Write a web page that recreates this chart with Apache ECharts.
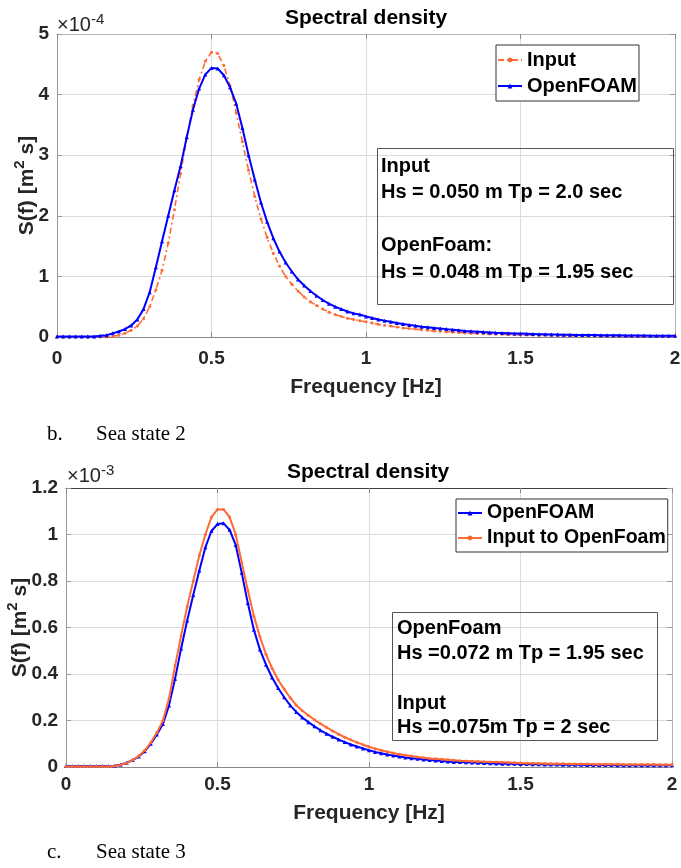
<!DOCTYPE html>
<html>
<head>
<meta charset="utf-8">
<script src="https://cdn.jsdelivr.net/npm/echarts@6/dist/echarts.min.js"></script>
<style>
html,body{margin:0;padding:0;background:#fff;}
#chart{width:681px;height:868px;}
</style>
</head>
<body>
<div id="chart"></div>
<script>
// Frequency sampling grid (Hz), 0 .. 2 step 0.02
const freq = Array.from({length: 101}, (_, i) => +(i * 0.02).toFixed(2));
const xTicks = [0, 0.5, 1, 1.5, 2];

// Chart b (Sea state 2), values in units of 1e-4 m^2 s
const input1 = [
 0.00,0.00,0.00,0.00,0.00,0.00,0.00,0.00,0.00,0.01,
 0.03,0.06,0.11,0.18,0.30,0.50,0.78,1.10,1.55,2.10,
 2.70,3.28,3.82,4.25,4.55,4.70,4.68,4.48,4.15,3.70,
 3.22,2.75,2.32,1.95,1.64,1.38,1.17,1.00,0.87,0.76,
 0.66,0.58,0.52,0.46,0.41,0.37,0.34,0.31,0.29,0.27,
 0.25,0.23,0.21,0.195,0.18,0.165,0.15,0.14,0.13,0.12,
 0.11,0.10,0.094,0.087,0.080,0.074,0.068,0.063,0.058,0.054,
 0.050,0.047,0.044,0.041,0.038,0.036,0.034,0.032,0.030,0.028,
 0.027,0.025,0.024,0.023,0.022,0.021,0.020,0.019,0.018,0.017,
 0.016,0.016,0.015,0.015,0.014,0.014,0.013,0.013,0.012,0.012,
 0.012
];
const ofoam1 = [
 0.01,0.01,0.01,0.01,0.01,0.01,0.01,0.02,0.03,0.06,
 0.09,0.13,0.19,0.29,0.46,0.74,1.15,1.58,2.00,2.42,
 2.82,3.30,3.75,4.10,4.33,4.44,4.43,4.32,4.12,3.85,
 3.45,3.00,2.60,2.22,1.90,1.63,1.41,1.23,1.08,0.95,
 0.85,0.76,0.68,0.61,0.55,0.50,0.46,0.42,0.39,0.37,
 0.34,0.315,0.29,0.27,0.25,0.23,0.215,0.20,0.185,0.17,
 0.16,0.15,0.14,0.13,0.12,0.11,0.10,0.093,0.087,0.081,
 0.076,0.071,0.067,0.063,0.059,0.056,0.053,0.050,0.047,0.045,
 0.043,0.041,0.039,0.037,0.035,0.034,0.032,0.031,0.030,0.029,
 0.028,0.027,0.026,0.025,0.024,0.023,0.022,0.022,0.021,0.020,
 0.020
];

// Chart c (Sea state 3), values in units of 1e-3 m^2 s
const ofoam2 = [
 0.004,0.004,0.004,0.004,0.004,0.004,0.004,0.004,0.005,0.010,
 0.018,0.030,0.045,0.068,0.100,0.140,0.185,0.265,0.380,0.510,
 0.630,0.740,0.845,0.945,1.015,1.045,1.048,1.020,0.955,0.835,
 0.705,0.590,0.505,0.440,0.385,0.340,0.300,0.265,0.237,0.213,
 0.193,0.175,0.158,0.143,0.130,0.118,0.107,0.097,0.088,0.080,
 0.072,0.065,0.059,0.054,0.049,0.045,0.041,0.038,0.035,0.032,
 0.030,0.028,0.026,0.024,0.022,0.021,0.020,0.019,0.018,0.017,
 0.016,0.015,0.0145,0.014,0.0135,0.013,0.0125,0.012,0.0115,0.011,
 0.0107,0.0104,0.0101,0.0098,0.0095,0.0092,0.0090,0.0088,0.0086,0.0084,
 0.0082,0.0080,0.0078,0.0077,0.0076,0.0075,0.0074,0.0073,0.0072,0.0071,
 0.0070
];
const input2 = [
 0.002,0.002,0.002,0.002,0.002,0.002,0.002,0.002,0.004,0.009,
 0.017,0.030,0.047,0.072,0.105,0.148,0.200,0.295,0.435,0.565,
 0.690,0.800,0.910,1.000,1.075,1.108,1.108,1.075,1.000,0.880,
 0.760,0.650,0.560,0.485,0.425,0.375,0.335,0.298,0.266,0.242,
 0.222,0.203,0.186,0.170,0.155,0.141,0.128,0.117,0.106,0.096,
 0.087,0.079,0.072,0.066,0.060,0.055,0.051,0.047,0.043,0.040,
 0.037,0.035,0.033,0.031,0.029,0.027,0.026,0.025,0.024,0.023,
 0.022,0.021,0.020,0.019,0.018,0.017,0.0165,0.016,0.0155,0.015,
 0.0145,0.014,0.0137,0.0134,0.0131,0.0128,0.0125,0.0122,0.0120,0.0118,
 0.0116,0.0114,0.0112,0.0110,0.0108,0.0106,0.0104,0.0103,0.0102,0.0101,
 0.0100
];
const yTicks1 = [0, 1, 2, 3, 4, 5];
const yTicks2 = [0, 0.2, 0.4, 0.6, 0.8, 1, 1.2];

const SANS = '"Liberation Sans", Arial, Helvetica, sans-serif';
const SERIF = '"Liberation Serif", "Times New Roman", serif';
const TXT = '#262626';
const ORANGE = '#FF6A35';
const BLUE = '#0000FF';

const pairs = vals => freq.map((f, i) => [f, vals[i]]);

function xAxes(gi, topColor) {
  return [{
    gridIndex: gi, type: 'value', position: 'bottom',
    min: xTicks[0], max: xTicks[xTicks.length - 1], interval: 0.5,
    name: 'Frequency [Hz]', nameLocation: 'middle', nameGap: gi === 0 ? 40 : 36,
    nameTextStyle: {fontFamily: SANS, fontWeight: 'bold', fontSize: 21, color: TXT},
    axisLine: {onZero: false, lineStyle: {color: '#8a8a8a', width: 1}},
    axisTick: {inside: true, length: 5, lineStyle: {color: '#8a8a8a'}},
    axisLabel: {fontFamily: SANS, fontWeight: 'bold', fontSize: 19, color: TXT, margin: gi === 0 ? 12 : 8},
    splitLine: {show: true, lineStyle: {color: '#dcdcdc', width: 1}}
  }, {
    gridIndex: gi, type: 'value', position: 'top',
    min: xTicks[0], max: xTicks[xTicks.length - 1], interval: 0.5,
    axisLine: {onZero: false, lineStyle: {color: topColor, width: 1}},
    axisTick: {inside: true, length: 5, lineStyle: {color: '#8a8a8a'}},
    axisLabel: {show: false}, splitLine: {show: false}
  }];
}
function yAxes(gi, ticks, interval, gap) {
  return [{
    gridIndex: gi, type: 'value', position: 'left',
    min: ticks[0], max: ticks[ticks.length - 1], interval: interval,
    name: '{n|S(f) [m}{s|2}{n| s]}', nameLocation: 'middle', nameGap: gap,
    nameMoveOverlap: false,
    nameTextStyle: {fontFamily: SANS, fontWeight: 'bold', fontSize: 21, color: TXT,
      rich: {
        n: {fontFamily: SANS, fontWeight: 'bold', fontSize: 21, color: TXT, verticalAlign: 'bottom', lineHeight: 26},
        s: {fontFamily: SANS, fontWeight: 'bold', fontSize: 15, color: TXT, verticalAlign: 'top', lineHeight: 15}
      }},
    axisLine: {onZero: false, lineStyle: {color: '#9a9a9a', width: 1}},
    axisTick: {inside: true, length: 5, lineStyle: {color: '#9a9a9a'}},
    axisLabel: {fontFamily: SANS, fontWeight: 'bold', fontSize: 19, color: TXT, margin: 8},
    splitLine: {show: true, lineStyle: {color: '#dcdcdc', width: 1}}
  }, {
    gridIndex: gi, type: 'value', position: 'right',
    min: ticks[0], max: ticks[ticks.length - 1], interval: interval,
    axisLine: {onZero: false, lineStyle: {color: '#b4b4b4', width: 1}},
    axisTick: {inside: true, length: 5, lineStyle: {color: '#9a9a9a'}},
    axisLabel: {show: false}, splitLine: {show: false}
  }];
}

const chart = echarts.init(document.getElementById('chart'), null, {renderer: 'canvas'});

const option = {
  animation: false,
  backgroundColor: '#fff',
  grid: [
    {left: 57, top: 34, width: 618, height: 303, containLabel: false, outerBoundsMode: 'none'},
    {left: 66, top: 488, width: 606, height: 279, containLabel: false, outerBoundsMode: 'none'}
  ],
  xAxis: [...xAxes(0, '#b4b4b4'), ...xAxes(1, '#404040')],
  yAxis: [...yAxes(0, yTicks1, 1, 19), ...yAxes(1, yTicks2, 0.2, 35)],
  legend: [{
    data: ['Input', 'OpenFOAM'], orient: 'vertical', left: 496, top: 45,
    itemWidth: 24, itemHeight: 6, itemGap: 6, padding: [5, 2, 5, 1],
    backgroundColor: '#fff', borderColor: '#333', borderWidth: 1, borderRadius: 0,
    textStyle: {fontFamily: SANS, fontWeight: 'bold', fontSize: 20, color: '#000'}, selectedMode: false
  }, {
    data: ['OpenFOAM', 'Input to OpenFoam'], orient: 'vertical', left: 456, top: 499,
    itemWidth: 24, itemHeight: 6, itemGap: 5, padding: [4, 2, 4, 1],
    backgroundColor: '#fff', borderColor: '#333', borderWidth: 1, borderRadius: 0,
    textStyle: {fontFamily: SANS, fontWeight: 'bold', fontSize: 19.5, color: '#000'}, selectedMode: false
  }],
  series: [
    {name: 'Input', type: 'line', xAxisIndex: 0, yAxisIndex: 0, data: pairs(input1),
     symbol: 'circle', symbolSize: 3, showSymbol: true,
     lineStyle: {color: ORANGE, width: 1.6, type: [6, 3, 2, 3]}, itemStyle: {color: ORANGE}, z: 2},
    {name: 'OpenFOAM', type: 'line', xAxisIndex: 0, yAxisIndex: 0, data: pairs(ofoam1),
     symbol: 'triangle', symbolSize: 4, showSymbol: true,
     lineStyle: {color: BLUE, width: 2}, itemStyle: {color: BLUE}, z: 3},
    {name: 'OpenFOAM', type: 'line', xAxisIndex: 2, yAxisIndex: 2, data: pairs(ofoam2),
     symbol: 'triangle', symbolSize: 4, showSymbol: true,
     lineStyle: {color: BLUE, width: 2}, itemStyle: {color: BLUE}, z: 2},
    {name: 'Input to OpenFoam', type: 'line', xAxisIndex: 2, yAxisIndex: 2, data: pairs(input2),
     symbol: 'circle', symbolSize: 3, showSymbol: true,
     lineStyle: {color: ORANGE, width: 2}, itemStyle: {color: ORANGE}, z: 3}
  ],
  graphic: [
    // titles
    {type: 'text', x: 366, y: 18, style: {text: 'Spectral density', font: 'bold 21px ' + SANS, fill: '#000', textAlign: 'center', textVerticalAlign: 'middle'}},
    {type: 'text', x: 368, y: 472, style: {text: 'Spectral density', font: 'bold 21px ' + SANS, fill: '#000', textAlign: 'center', textVerticalAlign: 'middle'}},
    // exponent labels
    {type: 'text', x: 57, y: 12, style: {text: '{a|×10}{b|-4}', rich: {a: {fontFamily: SANS, fontSize: 20, fill: TXT, verticalAlign: 'bottom', lineHeight: 23}, b: {fontFamily: SANS, fontSize: 15, fill: TXT, verticalAlign: 'top', lineHeight: 15}}}},
    {type: 'text', x: 67, y: 463, style: {text: '{a|×10}{b|-3}', rich: {a: {fontFamily: SANS, fontSize: 20, fill: TXT, verticalAlign: 'bottom', lineHeight: 23}, b: {fontFamily: SANS, fontSize: 15, fill: TXT, verticalAlign: 'top', lineHeight: 15}}}},
    // annotation box, chart b
    {type: 'rect', shape: {x: 377.5, y: 148.5, width: 296, height: 156}, style: {fill: 'none', stroke: '#555', lineWidth: 1}, z: 10},
    {type: 'text', x: 381, y: 166, z: 11, style: {text: 'Input', font: 'bold 20px ' + SANS, fill: '#000', textVerticalAlign: 'middle'}},
    {type: 'text', x: 381, y: 192.5, z: 11, style: {text: 'Hs = 0.050 m Tp = 2.0 sec', font: 'bold 20px ' + SANS, fill: '#000', textVerticalAlign: 'middle'}},
    {type: 'text', x: 381, y: 245.5, z: 11, style: {text: 'OpenFoam:', font: 'bold 20px ' + SANS, fill: '#000', textVerticalAlign: 'middle'}},
    {type: 'text', x: 381, y: 272, z: 11, style: {text: 'Hs = 0.048 m Tp = 1.95 sec', font: 'bold 20px ' + SANS, fill: '#000', textVerticalAlign: 'middle'}},
    // annotation box, chart c
    {type: 'rect', shape: {x: 392.5, y: 612.5, width: 265, height: 128}, style: {fill: 'none', stroke: '#555', lineWidth: 1}, z: 10},
    {type: 'text', x: 397, y: 628, z: 11, style: {text: 'OpenFoam', font: 'bold 20px ' + SANS, fill: '#000', textVerticalAlign: 'middle'}},
    {type: 'text', x: 397, y: 653, z: 11, style: {text: 'Hs =0.072 m Tp = 1.95 sec', font: 'bold 20px ' + SANS, fill: '#000', textVerticalAlign: 'middle'}},
    {type: 'text', x: 397, y: 703, z: 11, style: {text: 'Input', font: 'bold 20px ' + SANS, fill: '#000', textVerticalAlign: 'middle'}},
    {type: 'text', x: 397, y: 727.5, z: 11, style: {text: 'Hs =0.075m Tp = 2 sec', font: 'bold 20px ' + SANS, fill: '#000', textVerticalAlign: 'middle'}},
    // captions
    {type: 'text', x: 47, y: 434, style: {text: 'b.', font: '21px ' + SERIF, fill: '#000', textVerticalAlign: 'middle'}},
    {type: 'text', x: 96, y: 434, style: {text: 'Sea state 2', font: '21px ' + SERIF, fill: '#000', textVerticalAlign: 'middle'}},
    {type: 'text', x: 47, y: 852, style: {text: 'c.', font: '21px ' + SERIF, fill: '#000', textVerticalAlign: 'middle'}},
    {type: 'text', x: 96, y: 852, style: {text: 'Sea state 3', font: '21px ' + SERIF, fill: '#000', textVerticalAlign: 'middle'}}
  ]
};
chart.setOption(option);
</script>
</body>
</html>
